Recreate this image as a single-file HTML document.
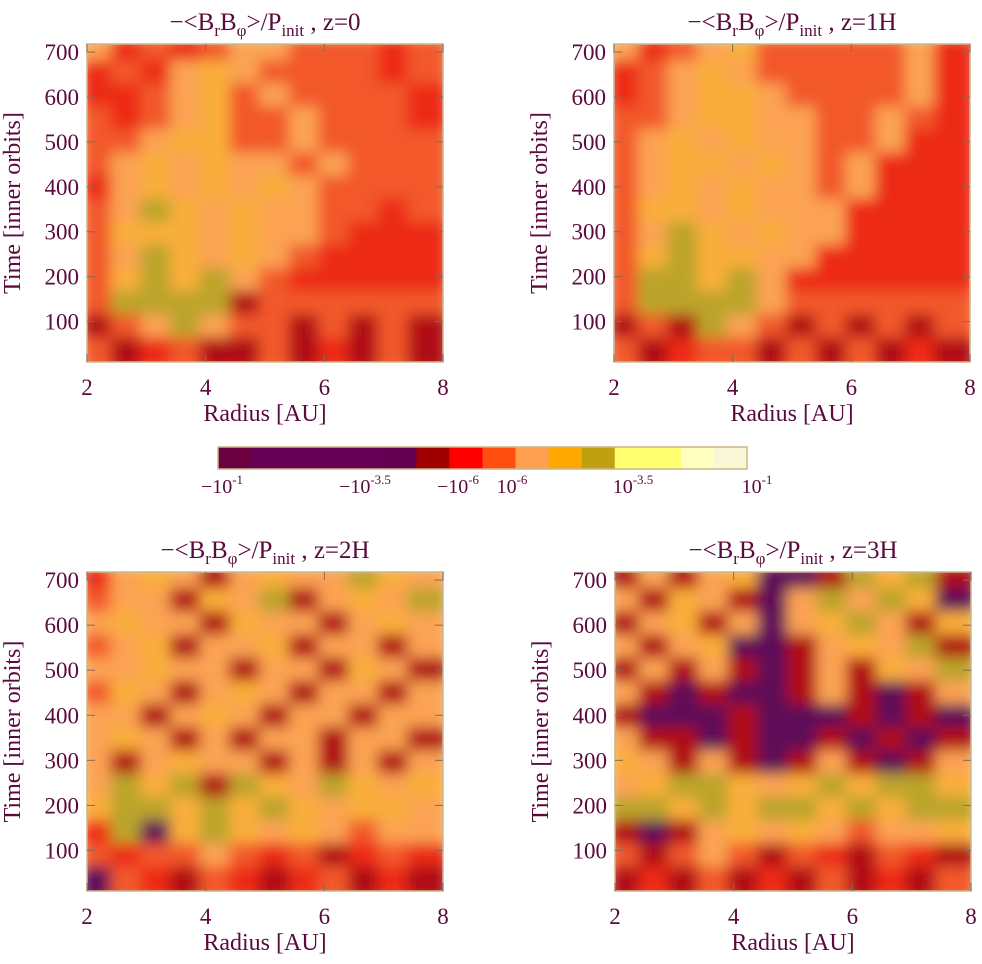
<!DOCTYPE html>
<html><head><meta charset="utf-8">
<style>
html,body{margin:0;padding:0;background:#fff;}
svg{display:block;}
text{font-family:"Liberation Serif",serif;fill:#5a0a3c;}
</style></head>
<body>
<svg id="fig" width="982" height="964" viewBox="0 0 982 964" xmlns="http://www.w3.org/2000/svg">
<defs>
<filter id="soft" x="-5%" y="-5%" width="110%" height="110%"><feGaussianBlur stdDeviation="7"/></filter>
</defs>
</svg>
<script>
// ---- chart data ----
const xTicks = [2, 4, 6, 8];
const yTicks = [100, 200, 300, 400, 500, 600, 700];
const xDomain = [2, 8];
const yDomain = [10, 718];
const panelTitles = ["z=0", "z=1H", "z=2H", "z=3H"];
// heatmap level codes per cell; rows from top (t=720) down to t=0, 12 radial columns (2..8 AU)
const gridZ0 = [
"LROROLLOOORO","RORLALOOOORO","RROLAOLOOOOR","OROLAOOLOOOR","OOLAAOOLOOOO",
"OLALALLOLOOO","RLALALALOOOO","OLGALALLOORO","OAAALALLORRR","OLGALALORRRR",
"OAGAGLORRRRR","OGGGGDOOOOOO","DOLGLOODODOD","ODRODDODRDOD"];
const gridZ1 = [
"LROLAOOOOOLR","ROLALOOOOOLR","ROLAALOOOOLR","OOLAALLOOLOR","OLALALLOOLRR",
"OLAALALOLRRR","OLALALLOLRRR","OAALALLLRRRR","OLGALALLRRRR","OAGAALLRRRRR",
"OGGAGLRRRRRR","OGGGGLOOOOOO","DODGLODODODO","ODROODODODRD"];
const gridZ2 = [
"RLALDLALLGAL","OLLDALGDLALG","LALLDALLDLAL","OLADLLADLLDL","LLALLDLLDALD",
"OALDLALDLLDL","LLDLALDLLDLL","LALDLDLLDLLD","LDLALLDLDLDL","LGAGDGALGALA",
"AGGAGAGALAAL","RGPAGALALOLL","OROOLORODROR","PORDORDRODRD"];
const gridZ3 = [
"DLDLAPPDGAGD","LDALDPLGLGAP","DLADLPLAGLDA","LDLAPPDLALGD","DLDLDPDLDALG",
"LDPDPPDLDPDL","DPPPDPPPDPDP","LDDPDPPDPDPD","ALDLDPDLDPDL","LAGGALAGAGGA",
"GGAGAGGAGAGG","DPDLALALOLLA","ODOLODORDORD","DRDODRDODRDO"];
const grids = [gridZ0, gridZ1, gridZ2, gridZ3];
const levelColors = {P:"#5e0858",D:"#b00c12",R:"#ec2a14",O:"#f2582a",L:"#fba352",A:"#f9ae3a",G:"#bba42a",Y:"#ffff70"};
const cbColors = ["#6a0040","#660055","#660055","#660055","#660055","#62004f","#a00000","#ff0000","#ff5010","#ffa050","#ffa800","#c0a010","#ffff70","#ffff70","#ffffc0","#f8f8d8"];
const cbLabels = [["−10","-1",222],["−10","-3.5",365],["−10","-6",458],["10","-6",512],["10","-3.5",633],["10","-1",757]];

const panels = [{x0:87,y0:44,w:356,h:318},{x0:614,y0:44,w:356,h:318},{x0:87,y0:572,w:356,h:319},{x0:615,y0:572,w:356,h:319}];
const NS="http://www.w3.org/2000/svg";
const svg=document.getElementById('fig');
function mk(tag,attrs,parent){const e=document.createElementNS(NS,tag);for(const k in attrs)e.setAttribute(k,attrs[k]);(parent||svg).appendChild(e);return e;}
function xScale(p,r){return p.x0+(r-xDomain[0])/(xDomain[1]-xDomain[0])*p.w;}
function yScale(p,t){return p.y0+p.h-(t-yDomain[0])/(yDomain[1]-yDomain[0])*p.h;}

panels.forEach((p,pi)=>{
  const g=mk('g',{});
  
  
  const cp=mk('clipPath',{id:'clip'+pi},svg.querySelector('defs'));
  mk('rect',{x:p.x0,y:p.y0,width:p.w,height:p.h},cp);
  const clipG=mk('g',{'clip-path':'url(#clip'+pi+')'},g);
  const hm=mk('g',{filter:'url(#soft)'},clipG);
  
  
  const grid=grids[pi];
  const nR=grid.length, nC=grid[0].length;
  const tTop=720, dt=tTop/nR, dr=(xDomain[1]-xDomain[0])/nC;
  for(let i=0;i<nR;i++){for(let j=0;j<nC;j++){
    const t1=tTop-i*dt, t0=t1-dt, r0=xDomain[0]+j*dr, r1=r0+dr;
    const x=xScale(p,r0)-6, y=yScale(p,t1)-6;
    const c=mk('rect',{x:x,y:y,width:xScale(p,r1)-xScale(p,r0)+12,height:yScale(p,t0)-yScale(p,t1)+12,fill:levelColors[grid[i][j]]},hm);
    
    
  }}
  const fr=mk('rect',{x:p.x0,y:p.y0,width:p.w,height:p.h,fill:'none',stroke:'#c8b888','stroke-width':1.5},g);
  
  
  xTicks.forEach(v=>{
    const x=xScale(p,v);
    mk('line',{x1:x,y1:p.y0+p.h,x2:x,y2:p.y0+p.h-8,stroke:'#8a6a50'},g);
    mk('line',{x1:x,y1:p.y0,x2:x,y2:p.y0+8,stroke:'#8a6a50'},g);
    const tl=mk('text',{x:x,y:p.y0+p.h+33,'font-size':23,'text-anchor':'middle'},g);
    tl.textContent=v;
    
    
  });
  yTicks.forEach(v=>{
    const y=yScale(p,v);
    mk('line',{x1:p.x0,y1:y,x2:p.x0+8,y2:y,stroke:'#8a6a50'},g);
    mk('line',{x1:p.x0+p.w,y1:y,x2:p.x0+p.w-8,y2:y,stroke:'#8a6a50'},g);
    const tl=mk('text',{x:p.x0-8,y:y+8,'font-size':23,'text-anchor':'end'},g);
    tl.textContent=v;
    
    
  });
  const xt=mk('text',{x:p.x0+p.w/2,y:p.y0+p.h+59,'font-size':24,'text-anchor':'middle'},g);
  xt.textContent='Radius [AU]';
  
  
  const yx=p.x0-67, yy=p.y0+p.h/2;
  const yt=mk('text',{x:yx,y:yy,'font-size':24,'text-anchor':'middle',transform:'rotate(-90 '+yx+' '+yy+')'},g);
  yt.textContent='Time [inner orbits]';
  
  
  const tt=mk('text',{x:p.x0+p.w/2,y:p.y0-14,'font-size':25,'text-anchor':'middle'},g);
  
  
  tt.innerHTML='−&lt;B<tspan dy="6" font-size="17">r</tspan><tspan dy="-6">B</tspan><tspan dy="6" font-size="17">φ</tspan><tspan dy="-6">&gt;/P</tspan><tspan dy="6" font-size="17">init</tspan><tspan dy="-6"> ,  '+panelTitles[pi]+'</tspan>';
});

const cb=mk('g',{});


const cbX0=218, cbX1=747, cbY=447, cbH=22, segW=(cbX1-cbX0)/cbColors.length;
cbColors.forEach((c,i)=>{
  const r=mk('rect',{x:cbX0+i*segW,y:cbY,width:segW+0.5,height:cbH,fill:c},cb);
  
  
});
mk('rect',{x:cbX0,y:cbY,width:cbX1-cbX0,height:cbH,fill:'none',stroke:'#c8b888','stroke-width':1.5},cb);
cbLabels.forEach(l=>{
  const t=mk('text',{x:l[2],y:493,'font-size':20,'text-anchor':'middle'},cb);
  
  
  t.innerHTML=l[0]+'<tspan dy="-9" font-size="13">'+l[1]+'</tspan>';
});
</script>
</body></html>
